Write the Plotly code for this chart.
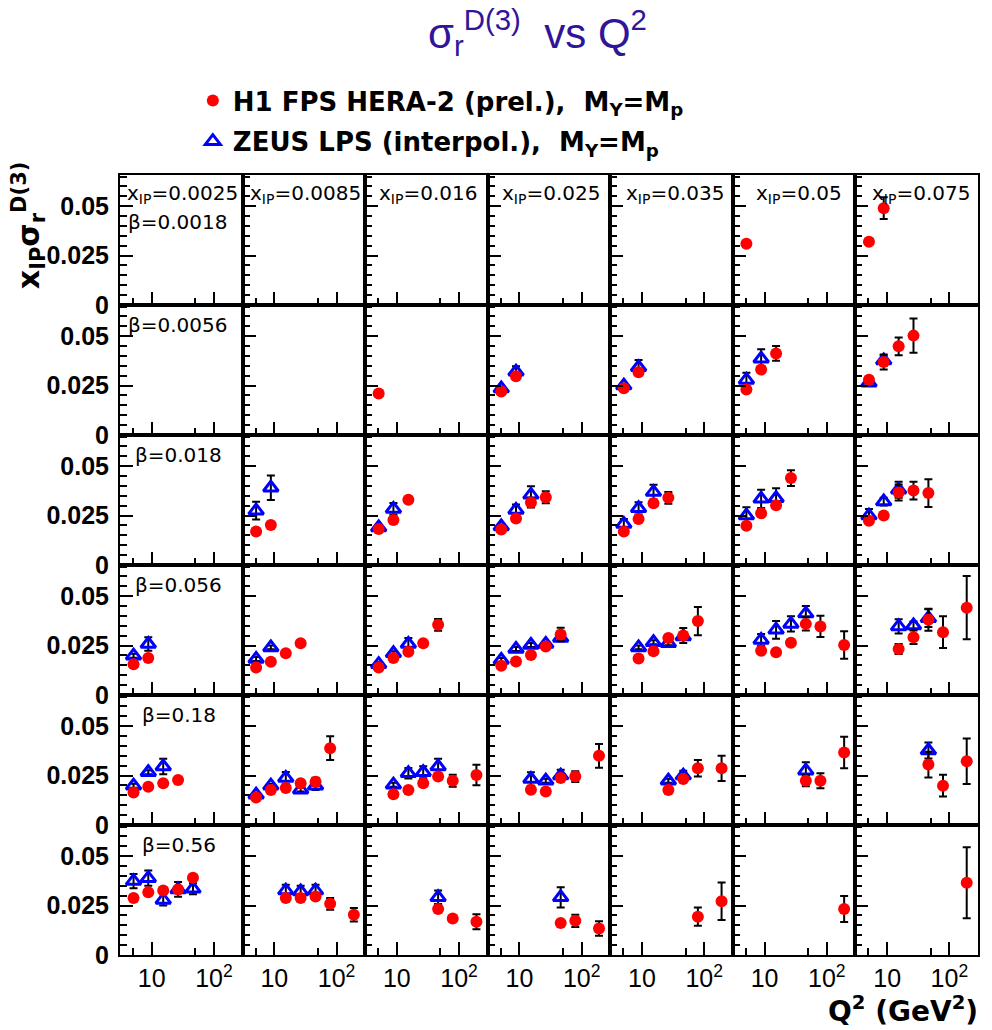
import plotly.graph_objects as go
from plotly.subplots import make_subplots

# ---------------- data ----------------
XPOM = [0.0025, 0.0085, 0.016, 0.025, 0.035, 0.05, 0.075]
XPOM_LABELS = ["0.0025", "0.0085", "0.016", "0.025", "0.035", "0.05", "0.075"]
BETA = [0.0018, 0.0056, 0.018, 0.056, 0.18, 0.56]
BETA_LABELS = ["0.0018", "0.0056", "0.018", "0.056", "0.18", "0.56"]
Q2_TICKS = [10, 100]
Q2_TICK_TEXT = ["10", "10<sup>2</sup>"]
Q2_MINOR = [5, 50]
Y_TICKS = [0, 0.025, 0.05]
Y_TICK_TEXT = ["<b>0</b>", "<b>0.025</b>", "<b>0.05</b>"]

# points: (x_IP, Q2, x_IP*sigma_r, error)
H1_B0018 = [(0.05, 5.1, .031, .0012), (0.075, 5.1, .032, .0015), (0.075, 8.8, .049, .0055)]
ZEUS_B0018 = []

H1_B0056 = [(0.016, 5.1, .021, .001), (0.025, 5.1, .022, .0012), (0.025, 8.8, .0297, .0015),
            (0.035, 5.1, .0236, .0012), (0.035, 8.8, .0318, .0015), (0.05, 5.1, .023, .0012),
            (0.05, 8.8, .0331, .0015), (0.05, 15.3, .0413, .0037), (0.075, 5.1, .028, .0015),
            (0.075, 8.8, .0369, .0038), (0.075, 15.3, .0449, .0045), (0.075, 26.5, .0503, .0087)]
ZEUS_B0056 = [(0.025, 5.1, .0235, .001), (0.025, 8.8, .032, .0028), (0.035, 5.1, .025, .001),
              (0.035, 8.8, .0343, .0037), (0.05, 5.1, .0279, .0036), (0.05, 8.8, .0386, .0048),
              (0.075, 5.1, .0265, .0015), (0.075, 8.8, .0377, .0025)]

H1_B018 = [(.0085, 5.1, .017, .001), (.0085, 8.8, .0202, .001), (.016, 5.1, .0182, .001),
           (.016, 8.8, .0228, .0012), (.016, 15.3, .033, .0012), (.025, 5.1, .018, .001),
           (.025, 8.8, .0235, .0012), (.025, 15.3, .0316, .0025), (.025, 26.5, .0343, .003),
           (.035, 5.1, .017, .001), (.035, 8.8, .0233, .0012), (.035, 15.3, .0313, .0012),
           (.035, 26.5, .034, .003), (.05, 5.1, .0199, .001), (.05, 8.8, .0262, .0012),
           (.05, 15.3, .0302, .0012), (.05, 26.5, .044, .004), (.075, 5.1, .0224, .0012),
           (.075, 8.8, .025, .0012), (.075, 15.3, .0367, .004), (.075, 26.5, .0377, .0045),
           (.075, 46, .0364, .007)]
ZEUS_B018 = [(.0085, 5.1, .0275, .0045), (.0085, 8.8, .0391, .0062), (.016, 5.1, .019, .001),
             (.016, 8.8, .0284, .003), (.025, 5.1, .0195, .001), (.025, 8.8, .0279, .0027),
             (.025, 15.3, .0355, .0043), (.035, 5.1, .0208, .0025), (.035, 8.8, .0287, .0031),
             (.035, 15.3, .0369, .0037), (.05, 5.1, .025, .0042), (.05, 8.8, .0335, .0046),
             (.05, 15.3, .0338, .0051), (.075, 5.1, .025, .0034), (.075, 8.8, .0321, .002),
             (.075, 15.3, .0381, .004)]

H1_B056 = [(.0025, 5.1, .0156, .001), (.0025, 8.8, .0187, .001), (.0085, 5.1, .0139, .001),
           (.0085, 8.8, .0168, .001), (.0085, 15.3, .0211, .001), (.0085, 26.5, .0262, .001),
           (.016, 5.1, .0139, .001), (.016, 8.8, .0187, .001), (.016, 15.3, .0219, .001),
           (.016, 26.5, .0262, .001), (.016, 46, .0355, .003), (.025, 5.1, .0148, .001),
           (.025, 8.8, .017, .001), (.025, 15.3, .0202, .001), (.025, 26.5, .0245, .0012),
           (.025, 46, .0306, .0034), (.035, 8.8, .0185, .001), (.035, 15.3, .0221, .001),
           (.035, 26.5, .0289, .0012), (.035, 46, .0301, .0038), (.035, 79, .0374, .0072),
           (.05, 8.8, .0224, .001), (.05, 15.3, .0216, .001), (.05, 26.5, .0264, .0012),
           (.05, 46, .036, .0034), (.05, 79, .0347, .0054), (.05, 190, .0253, .007),
           (.075, 15.3, .0233, .0025), (.075, 26.5, .0292, .0034), (.075, 46, .0381, .0056),
           (.075, 79, .0318, .008), (.075, 190, .0442, .016)]
ZEUS_B056 = [(.0025, 5.1, .0199, .001), (.0025, 8.8, .0258, .0034), (.0085, 5.1, .0182, .001),
             (.0085, 8.8, .0241, .001), (.016, 5.1, .0156, .001), (.016, 8.8, .0211, .001),
             (.016, 15.3, .0258, .0031), (.025, 5.1, .0177, .001), (.025, 8.8, .0233, .001),
             (.025, 15.3, .0253, .001), (.025, 26.5, .0258, .001), (.025, 46, .0289, .001),
             (.035, 8.8, .0241, .001), (.035, 15.3, .0267, .001), (.035, 26.5, .0262, .001),
             (.035, 46, .0296, .001), (.05, 8.8, .0279, .003), (.05, 15.3, .033, .0045),
             (.05, 26.5, .036, .0038), (.05, 46, .0412, .0038), (.075, 15.3, .0347, .0036),
             (.075, 26.5, .0352, .002), (.075, 46, .0389, .0045)]

H1_B18 = [(.0025, 5.1, .0165, .001), (.0025, 8.8, .0194, .001), (.0025, 15.3, .0211, .001),
          (.0025, 26.5, .0228, .001), (.0085, 5.1, .0139, .001), (.0085, 8.8, .0177, .001),
          (.0085, 15.3, .0187, .001), (.0085, 26.5, .0211, .001), (.0085, 46, .0219, .002),
          (.0085, 79, .0389, .006), (.016, 8.8, .0156, .001), (.016, 15.3, .0177, .001),
          (.016, 26.5, .0211, .001), (.016, 46, .0245, .001), (.016, 79, .0224, .003),
          (.016, 190, .0253, .0052), (.025, 15.3, .0179, .001), (.025, 26.5, .017, .001),
          (.025, 46, .0238, .001), (.025, 79, .0245, .0027), (.025, 190, .035, .006),
          (.035, 26.5, .0177, .001), (.035, 46, .0233, .001), (.035, 79, .0287, .0042),
          (.035, 190, .0287, .0064), (.05, 46, .0224, .0028), (.05, 79, .0224, .0038),
          (.05, 190, .0367, .008), (.075, 46, .0306, .0065), (.075, 79, .0199, .0055),
          (.075, 190, .0323, .0115)]
ZEUS_B18 = [(.0025, 5.1, .0199, .001), (.0025, 8.8, .0267, .001), (.0025, 15.3, .0296, .0039),
            (.0085, 5.1, .0153, .001), (.0085, 8.8, .0199, .001), (.0085, 15.3, .0238, .003),
            (.0085, 26.5, .0179, .001), (.0085, 46, .0199, .0022), (.016, 8.8, .0204, .001),
            (.016, 15.3, .0262, .0027), (.016, 26.5, .0267, .003), (.016, 46, .0296, .0039),
            (.025, 15.3, .0233, .0034), (.025, 26.5, .0224, .001), (.025, 46, .025, .003),
            (.035, 26.5, .0224, .001), (.035, 46, .025, .0025), (.05, 46, .0275, .0043),
            (.075, 46, .0377, .004)]

H1_B56 = [(.0025, 5.1, .0289, .001), (.0025, 8.8, .0318, .001), (.0025, 15.3, .0326, .001),
          (.0025, 26.5, .0332, .001), (.0025, 46, .0391, .001), (.0085, 15.3, .0289, .001),
          (.0085, 26.5, .0289, .001), (.0085, 46, .0296, .001), (.0085, 79, .0259, .003),
          (.0085, 190, .0204, .0034), (.016, 46, .0233, .001), (.016, 79, .0185, .001),
          (.016, 190, .0168, .0038), (.025, 46, .0162, .001), (.025, 79, .0173, .0031),
          (.025, 190, .0134, .0037), (.035, 79, .0194, .0046), (.035, 190, .0272, .0095),
          (.05, 190, .0233, .0066), (.075, 190, .0366, .018)]
ZEUS_B56 = [(.0025, 5.1, .0374, .0036), (.0025, 8.8, .0389, .0039), (.0025, 15.3, .0279, .0029),
            (.0025, 26.5, .0332, .0037), (.0025, 46, .0335, .0028), (.0085, 15.3, .0326, .003),
            (.0085, 26.5, .0321, .003), (.0085, 46, .0326, .003), (.016, 46, .0292, .0034),
            (.025, 46, .0292, .0051)]

H1_ROWS = [H1_B0018, H1_B0056, H1_B018, H1_B056, H1_B18, H1_B56]
ZEUS_ROWS = [ZEUS_B0018, ZEUS_B0056, ZEUS_B018, ZEUS_B056, ZEUS_B18, ZEUS_B56]

H1_NAME = "<b>H1 FPS HERA-2 (prel.), \u00a0M<sub>Y</sub>=M<sub>p</sub></b>"
ZEUS_NAME = "<b>ZEUS LPS (interpol.), \u00a0M<sub>Y</sub>=M<sub>p</sub></b>"

# ---------------- figure ----------------
NR, NC = len(BETA), len(XPOM)
W, H = 992, 1030
ML, MR, MT, MB = 120, 12, 175, 75
PW, PH = W - ML - MR, H - MT - MB

fig = make_subplots(rows=NR, cols=NC, horizontal_spacing=0, vertical_spacing=0)

err_style = dict(type="data", color="black", thickness=2, width=4)
shown = {"h1": False, "zeus": False}

for r in range(NR):
    for c in range(NC):
        xp = XPOM[c]
        zp = [p for p in ZEUS_ROWS[r] if p[0] == xp]
        hp = [p for p in H1_ROWS[r] if p[0] == xp]
        # always create the panel (empty panels must still be drawn)
        fig.add_trace(go.Scatter(x=[None], y=[None], mode="markers", showlegend=False,
                                 hoverinfo="skip"), row=r + 1, col=c + 1)
        if zp:
            fig.add_trace(go.Scatter(
                x=[p[1] for p in zp], y=[p[2] for p in zp], mode="markers",
                error_y=dict(array=[p[3] for p in zp], **err_style),
                marker=dict(symbol="triangle-up-open", size=13, color="#0000ff",
                            line=dict(width=3, color="#0000ff")),
                name=ZEUS_NAME, legendgroup="zeus", legendrank=2,
                showlegend=not shown["zeus"]), row=r + 1, col=c + 1)
            shown["zeus"] = True
        if hp:
            fig.add_trace(go.Scatter(
                x=[p[1] for p in hp], y=[p[2] for p in hp], mode="markers",
                error_y=dict(array=[p[3] for p in hp], **err_style),
                marker=dict(symbol="circle", size=12, color="#ff0000", line=dict(width=0)),
                name=H1_NAME, legendgroup="h1", legendrank=1,
                showlegend=not shown["h1"]), row=r + 1, col=c + 1)
            shown["h1"] = True

fig.update_xaxes(type="log", range=[0.49, 2.46], tickvals=Q2_TICKS, ticktext=Q2_TICK_TEXT,
                 ticks="inside", ticklen=13, tickwidth=1.5, tickcolor="black",
                 minor=dict(tickvals=Q2_MINOR, ticks="inside", ticklen=7, tickwidth=1.5,
                            tickcolor="black"),
                 showline=True, mirror=True, linecolor="black", linewidth=2,
                 showgrid=False, zeroline=False, showticklabels=False,
                 tickfont=dict(family="Liberation Sans", size=25, color="black"))
fig.update_xaxes(showticklabels=True, row=NR)

fig.update_yaxes(range=[0, 0.0658], tickvals=Y_TICKS, ticktext=Y_TICK_TEXT,
                 ticks="inside", ticklen=13, tickwidth=1.5, tickcolor="black",
                 minor=dict(dtick=0.005, tick0=0, ticks="inside", ticklen=7, tickwidth=1.5,
                            tickcolor="black"),
                 showline=True, mirror=True, linecolor="black", linewidth=2,
                 showgrid=False, zeroline=False, showticklabels=False, ticklabelstandoff=4,
                 tickfont=dict(family="Liberation Sans", size=25, color="black"))
fig.update_yaxes(showticklabels=True, col=1)


def pxx(x):
    return (x - ML) / PW


def pxy(y):
    return (H - MB - y) / PH


anns = []
LABEL_FONT = dict(family="DejaVu Sans", size=20, color="black")
col_left = [ML + c * PW / NC for c in range(NC)]
xip_offsets = [5, 5, 12, 12, 14, 21, 15]
for c in range(NC):
    anns.append(dict(text="x<sub>IP</sub>=" + XPOM_LABELS[c], x=pxx(col_left[c] + xip_offsets[c]),
                     y=pxy(194), xref="paper", yref="paper", xanchor="left", yanchor="middle",
                     showarrow=False, font=LABEL_FONT))
beta_pos = [(126, 222), (126, 325), (133, 455), (133, 585), (140, 715), (140, 845)]
for r in range(NR):
    anns.append(dict(text="β=" + BETA_LABELS[r], x=pxx(beta_pos[r][0]), y=pxy(beta_pos[r][1]),
                     xref="paper", yref="paper", xanchor="left", yanchor="middle",
                     showarrow=False, font=LABEL_FONT))

# title
anns.append(dict(text="σ<sub>r</sub><sup>D(3)</sup> \u00a0vs Q<sup>2</sup>", x=pxx(538), y=pxy(33),
                 xref="paper", yref="paper", xanchor="center", yanchor="middle",
                 showarrow=False, font=dict(family="Liberation Sans", size=42, color="#30149a")))
# y title
anns.append(dict(text="<b>x<sub>IP</sub>σ<sub>r</sub><sup>D(3)</sup></b>", x=pxx(28), y=pxy(225),
                 xref="paper", yref="paper", xanchor="center", yanchor="middle", textangle=-90,
                 showarrow=False, font=dict(family="DejaVu Sans", size=30, color="black")))
# x title
anns.append(dict(text="<b>Q<sup>2</sup> (GeV<sup>2</sup>)</b>", x=pxx(982), y=pxy(1009),
                 xref="paper", yref="paper", xanchor="right", yanchor="middle",
                 showarrow=False, font=dict(family="DejaVu Sans", size=28, color="black")))

fig.update_layout(
    width=W, height=H, margin=dict(l=ML, r=MR, t=MT, b=MB),
    paper_bgcolor="white", plot_bgcolor="white",
    annotations=anns,
    legend=dict(x=pxx(193), y=pxy(77), xanchor="left", yanchor="top",
                font=dict(family="DejaVu Sans", size=26, color="black"),
                bgcolor="rgba(0,0,0,0)", tracegroupgap=4, itemwidth=30),
    font=dict(family="Liberation Sans", color="black"),
)

fig.write_html("out.html")
